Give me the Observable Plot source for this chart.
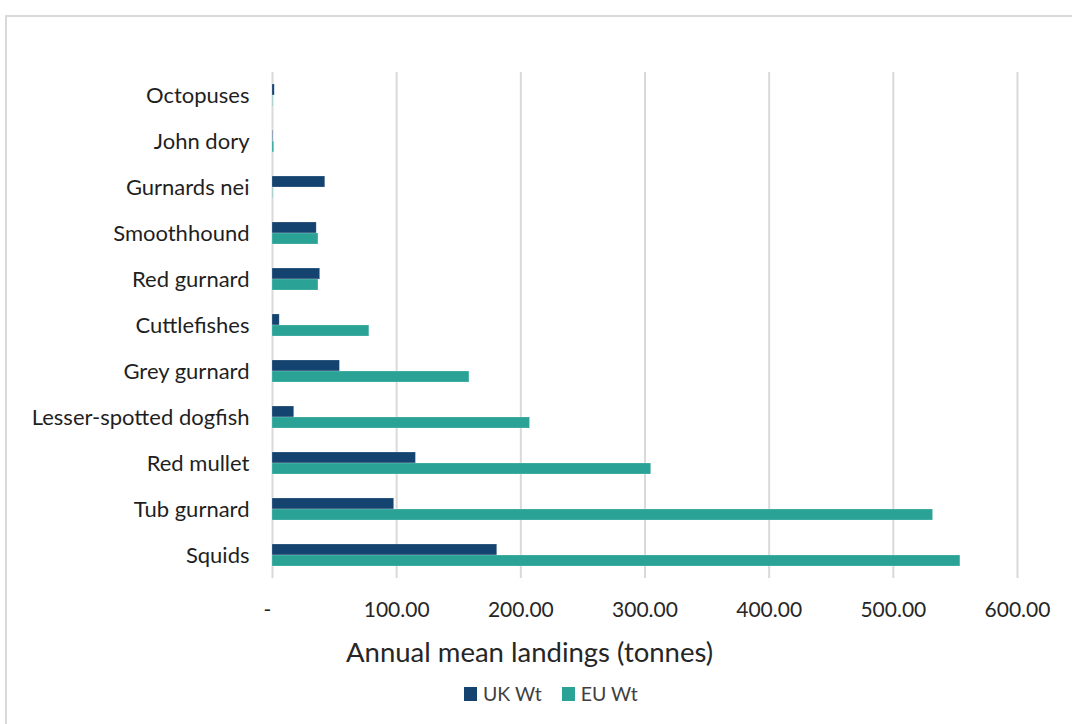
<!DOCTYPE html>
<html>
<head>
<meta charset="utf-8">
<script src="https://cdn.jsdelivr.net/npm/d3@7"></script>
<script src="https://cdn.jsdelivr.net/npm/@observablehq/plot@0.6"></script>
<style>
  html, body { margin: 0; padding: 0; background: #fff; }
  body { width: 1072px; height: 724px; position: relative; overflow: hidden; font-family: Lato, "Open Sans", sans-serif; }
  #frame { position: absolute; left: 5px; top: 15px; width: 1100px; height: 800px; border: 2px solid #d9d9d9; box-sizing: border-box; }
  #chart { position: absolute; left: 0; top: 0; }
  #xtitle { position: absolute; top: 635px; left: 346px; font-size: 27.5px; color: #262626; white-space: nowrap; }
  #legend { position: absolute; top: 682px; left: 464px; font-size: 19.5px; color: #404040; display: flex; gap: 20px; align-items: center; }
  #legend span.sw { display: inline-block; width: 13px; height: 14px; margin-right: 6px; }
  #legend .item { display: flex; align-items: center; }
</style>
</head>
<body>
<div id="frame"></div>
<div id="chart"></div>
<div id="xtitle">Annual mean landings (tonnes)</div>
<div id="legend"></div>
<script>
const species = ["Octopuses", "John dory", "Gurnards nei", "Smoothhound", "Red gurnard", "Cuttlefishes", "Grey gurnard", "Lesser-spotted dogfish", "Red mullet", "Tub gurnard", "Squids"];
const ukWt = [1.8, 0.4, 42.5, 35.6, 38.4, 5.8, 54.3, 17.5, 115.5, 98, 181];
const euWt = [0.3, 1.3, 0.3, 37, 37, 78, 158.6, 207.4, 305, 532, 554];
const seriesNames = ["UK Wt", "EU Wt"];
const seriesColors = ["#154370", "#2aa396"];
const xTicks = [0, 100, 200, 300, 400, 500, 600];

const data = [];
species.forEach((s, i) => {
  data.push({species: s, series: "UK Wt", value: ukWt[i]});
  data.push({species: s, series: "EU Wt", value: euWt[i]});
});

const chart = Plot.plot({
  width: 1072,
  height: 670,
  marginLeft: 272,
  marginRight: 55,
  marginTop: 72,
  marginBottom: 92,
  style: {fontFamily: "Lato, 'Open Sans', sans-serif", background: "transparent"},
  x: {domain: [0, 600], ticks: xTicks, label: null},
  fy: {domain: species, padding: 0, label: null},
  y: {domain: seriesNames, paddingInner: 0, paddingOuter: 0.917, axis: null},
  color: {domain: seriesNames, range: seriesColors},
  marks: [
    Plot.gridX(xTicks, {stroke: "#d9d9d9", strokeOpacity: 1, strokeWidth: 2}),
    Plot.barX(data, {x: "value", y: "series", fy: "species", fill: "series", stroke: "#ffffff", strokeOpacity: 0.35, strokeWidth: 0.6}),
    Plot.axisX(xTicks, {
      tickSize: 0, tickPadding: 24, fontSize: 21, fill: "#262626", label: null,
      tickFormat: d => d === 0 ? "-" : d3.format(".2f")(d),
      facetAnchor: "bottom"
    }),
    Plot.axisFy({tickSize: 0, tickPadding: 23, fontSize: 22, fill: "#1f1f1f", label: null, anchor: "left"})
  ]
});
document.getElementById("chart").appendChild(chart);
// nudge the zero label ("-") left like the original
chart.querySelectorAll("text").forEach(t => { if (t.textContent === "-") t.setAttribute("dx", "-5"); });

const legend = document.getElementById("legend");
seriesNames.forEach((n, i) => {
  const item = document.createElement("div");
  item.className = "item";
  item.innerHTML = `<span class="sw" style="background:${seriesColors[i]}"></span>${n}`;
  legend.appendChild(item);
});
</script>
</body>
</html>
